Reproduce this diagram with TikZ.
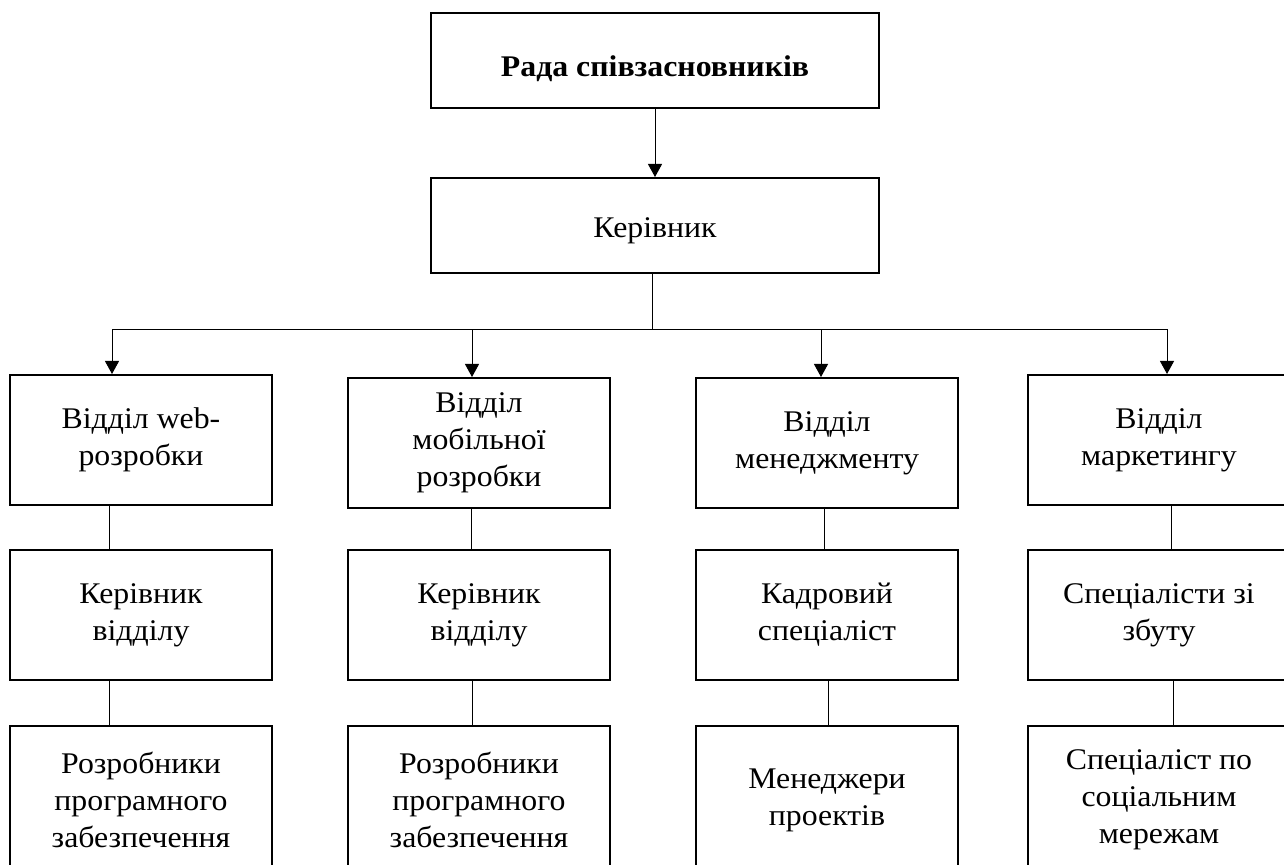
\documentclass[tikz,border=0pt]{standalone}
\usepackage{fontspec}
\setmainfont{Liberation Serif}[FakeStretch=1.06]
\usetikzlibrary{arrows.meta,positioning}

\begin{document}
\begin{tikzpicture}[x=0.5pt,y=-0.5pt,
    unit/.style={draw, line width=1pt, align=center, inner sep=0pt,
                 minimum width=131pt, minimum height=65pt,
                 font=\fontsize{15}{18.5}\selectfont},
    link/.style={line width=0.5pt},
    arr/.style={link, -{Triangle[length=6.5pt,width=7pt]}}]
  \useasboundingbox (0,0) rectangle (1284,865);

  % top of the structure
  \node[unit, minimum width=224pt, minimum height=47.5pt, text height=19pt,
        font=\bfseries\fontsize{15}{18.5}\selectfont] (rada) at (655,60.5) {Рада співзасновників};
  \node[unit, minimum width=224pt, minimum height=47.5pt, text height=15pt] (kerivnyk) at (655,225.5) {Керівник};

  % departments
  \node[unit] (web)    at (141,440)  {Відділ web-\\розробки};
  \node[unit] (mobile) at (479,443)  {Відділ\\мобільної\\розробки};
  \node[unit] (mgmt)   at (827,443)  {Відділ\\менеджменту};
  \node[unit] (mkt)    at (1159,440) {Відділ\\маркетингу};

  % heads and specialists
  \node[unit] (webhead) at (141,615)  {Керівник\\відділу};
  \node[unit] (mobhead) at (479,615)  {Керівник\\відділу};
  \node[unit] (hr)      at (827,615)  {Кадровий\\спеціаліст};
  \node[unit] (sales)   at (1159,615) {Спеціалісти зі\\збуту};

  % staff
  \node[unit, minimum height=74pt] (webdev) at (141,800)  {Розробники\\програмного\\забезпечення};
  \node[unit, minimum height=74pt] (mobdev) at (479,800)  {Розробники\\програмного\\забезпечення};
  \node[unit, minimum height=74pt] (pm)     at (827,800)  {Менеджери\\проектів};
  \node[unit, minimum height=74pt] (smm)    at (1159,800) {Спеціаліст по\\соціальним\\мережам};

  \draw[arr] (rada) -- (kerivnyk);
  \coordinate (bus) at (652,330);
  \draw[link] (kerivnyk.south -| bus) -- (bus);
  \draw[arr] (bus) -| ([xshift=-14.5pt]web.north);
  \draw[arr] (bus) -| ([xshift=-3.5pt]mobile.north);
  \draw[arr] (bus) -| ([xshift=-3pt]mgmt.north);
  \draw[arr] (bus) -| ([xshift=4pt]mkt.north);

  \draw[link] ([xshift=-16pt]web.south) -- ([xshift=-16pt]webhead.north);
  \draw[link] ([xshift=-4pt]mobile.south) -- ([xshift=-4pt]mobhead.north);
  \draw[link] ([xshift=-1.5pt]mgmt.south) -- ([xshift=-1.5pt]hr.north);
  \draw[link] ([xshift=6pt]mkt.south) -- ([xshift=6pt]sales.north);

  \draw[link] ([xshift=-16pt]webhead.south) -- ([xshift=-16pt]webdev.north);
  \draw[link] ([xshift=-3.5pt]mobhead.south) -- ([xshift=-3.5pt]mobdev.north);
  \draw[link] ([xshift=0.5pt]hr.south) -- ([xshift=0.5pt]pm.north);
  \draw[link] ([xshift=7pt]sales.south) -- ([xshift=7pt]smm.north);
\end{tikzpicture}
\end{document}
